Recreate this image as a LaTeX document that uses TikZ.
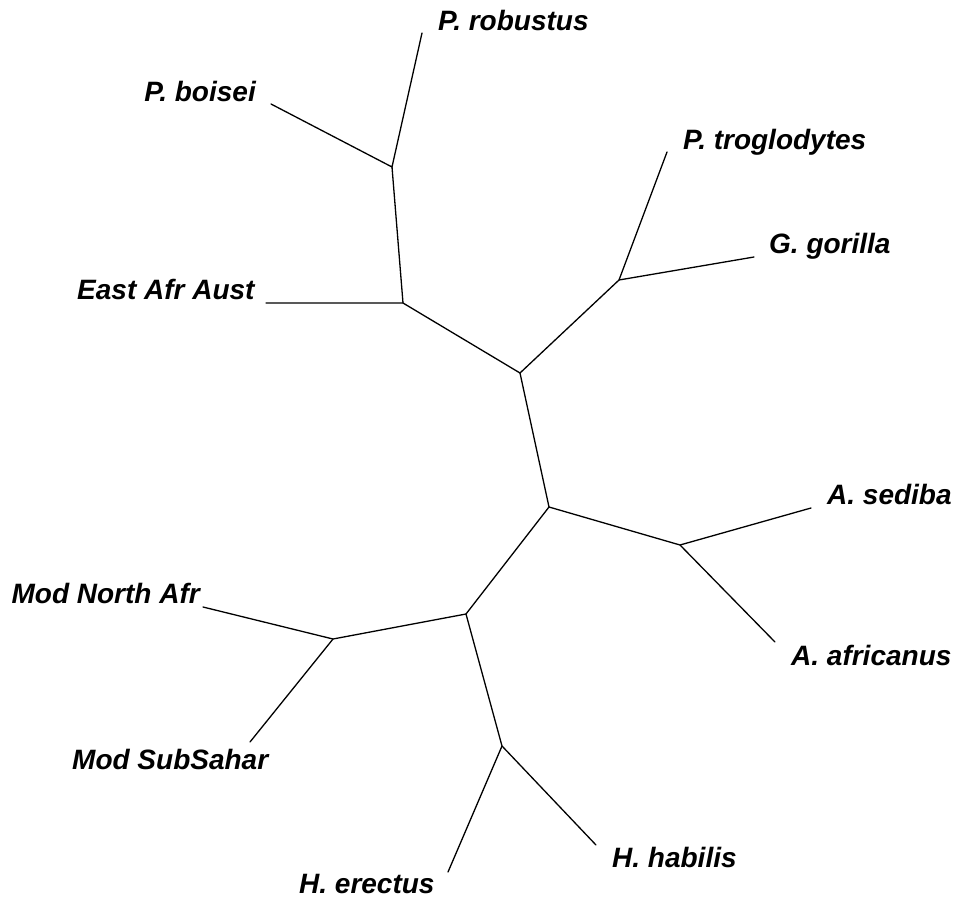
\documentclass[tikz,border=0pt]{standalone}
\usepackage{fontspec}
\setmainfont{Liberation Sans}
\begin{document}
\begin{tikzpicture}[x=1pt,y=-1pt,
  branch/.style={line width=1.3pt,line cap=round},
  taxon/.style={inner sep=0pt,font=\fontsize{28}{30}\selectfont\bfseries\itshape}]
\useasboundingbox (0,0) rectangle (980,902);
% internal junctions
\coordinate (jA) at (392,167);
\coordinate (jB) at (403,303);
\coordinate (jC) at (520,373);
\coordinate (jD) at (619,280);
\coordinate (jE) at (549,507);
\coordinate (jF) at (680,545);
\coordinate (jG) at (466,614);
\coordinate (jH) at (333,639);
\coordinate (jI) at (502,746);
% branch tips
\coordinate (tRob) at (422,33);
\coordinate (tBoi) at (271,104);
\coordinate (tEaa) at (266,303);
\coordinate (tTro) at (667,152);
\coordinate (tGor) at (754,257);
\coordinate (tSed) at (811,508);
\coordinate (tAfr) at (775,642);
\coordinate (tMna) at (203,607);
\coordinate (tMss) at (250,742);
\coordinate (tHer) at (448,872);
\coordinate (tHha) at (596,845);
% taxon labels
\node[taxon,anchor=base west] (lRob) at (438,30) {P. robustus};
\node[taxon,anchor=base east] (lBoi) at (256,101) {P. boisei};
\node[taxon,anchor=base west] (lEaa) at (77,299) {East Afr Aust};
\node[taxon,anchor=base west] (lTro) at (683,149) {P. troglodytes};
\node[taxon,anchor=base west] (lGor) at (769,253) {G. gorilla};
\node[taxon,anchor=base west] (lSed) at (827,504) {A. sediba};
\node[taxon,anchor=base west] (lAfr) at (791,665) {A. africanus};
\node[taxon,anchor=base east] (lMna) at (200,603) {Mod North Afr};
\node[taxon,anchor=base west] (lMss) at (72,769) {Mod SubSahar};
\node[taxon,anchor=base west] (lHer) at (299,893) {H. erectus};
\node[taxon,anchor=base west] (lHha) at (612,867) {H. habilis};
% tree branches
\draw[branch] (tRob) -- (jA) -- (tBoi);
\draw[branch] (jA) -- (jB) -- (tEaa);
\draw[branch] (jB) -- (jC) -- (jD) -- (tTro);
\draw[branch] (jD) -- (tGor);
\draw[branch] (jC) -- (jE) -- (jF) -- (tSed);
\draw[branch] (jF) -- (tAfr);
\draw[branch] (jE) -- (jG) -- (jH) -- (tMna);
\draw[branch] (jH) -- (tMss);
\draw[branch] (jG) -- (jI) -- (tHer);
\draw[branch] (jI) -- (tHha);
\end{tikzpicture}
\end{document}
